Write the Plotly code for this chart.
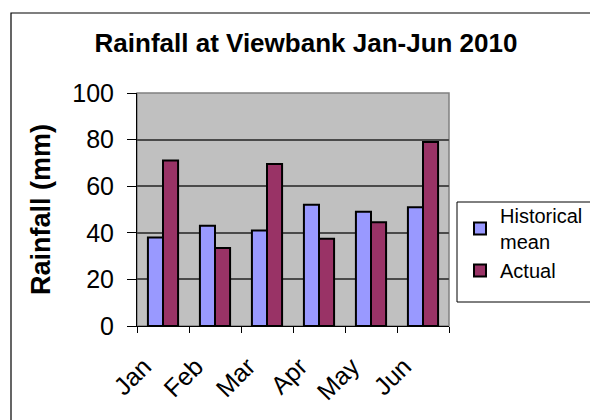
import plotly.graph_objects as go

months = ["Jan", "Feb", "Mar", "Apr", "May", "Jun"]
historical_mean = [38, 43, 41, 52, 49, 51]
actual = [71, 33.5, 69.5, 37.5, 44.5, 79]
y_ticks = [0, 20, 40, 60, 80, 100]

W, H = 598, 420
OFF = 8  # default page body margin: screen = figure + 8


def s(v):
    return v - OFF


L, R, T, B = s(137), s(449), s(93), s(326)  # plot area in figure pixels


def px(x):
    return (s(x) - L) / (R - L)


def py(y):
    return (B - s(y)) / (B - T)


FONT = "Liberation Sans, Arial, sans-serif"

fig = go.Figure()
fig.add_trace(go.Bar(x=months, y=historical_mean, name="Historical<br>mean",
                     marker=dict(color="#9999FF", line=dict(color="black", width=2))))
fig.add_trace(go.Bar(x=months, y=actual, name="Actual",
                     marker=dict(color="#993366", line=dict(color="black", width=2))))

fig.update_layout(
    width=W, height=H,
    margin=dict(l=L, r=W - R, t=T, b=H - B),
    paper_bgcolor="white",
    plot_bgcolor="#C0C0C0",
    barmode="group",
    bargap=0.42,
    bargroupgap=0,
    font=dict(family=FONT, color="black"),
    title=dict(text="<b>Rainfall at Viewbank Jan-Jun 2010</b>",
               x=s(306) / W, xanchor="center", y=1 - s(43) / H, yanchor="middle",
               font=dict(size=26, family=FONT, color="black")),
    legend=dict(x=px(460), y=py(196), xanchor="left", yanchor="top",
                font=dict(size=20, family=FONT), bgcolor="rgba(0,0,0,0)",
                borderwidth=0, tracegroupgap=0),
    showlegend=True,
)

fig.update_yaxes(range=[0, 100], tickvals=y_ticks, ticks="outside", ticklen=9,
                 tickcolor="black", showline=True, linecolor="black", linewidth=1,
                 showgrid=True, gridcolor="#4a4a4a", gridwidth=1.5,
                 tickfont=dict(size=25, family=FONT), zeroline=False,
                 ticklabelstandoff=8,
                 title=dict(text="<b>Rainfall (mm)</b>", font=dict(size=27, family=FONT),
                            standoff=13))
fig.update_xaxes(tickson="boundaries", ticks="outside", ticklen=6, tickcolor="black",
                 showline=True, linecolor="black", linewidth=1,
                 tickangle=-45, tickfont=dict(size=25, family=FONT),
                 ticklabelstandoff=15, ticklabelshift=-19)

# plot area border (top/right gray)
fig.add_shape(type="rect", xref="paper", yref="paper", x0=0, x1=1, y0=0, y1=1,
              line=dict(color="#808080", width=1.5), layer="below")
# legend box
fig.add_shape(type="rect", xref="paper", yref="paper", x0=px(457), x1=px(610),
              y0=py(302), y1=py(202), line=dict(color="black", width=1))
# outer chart border
fig.add_shape(type="rect", xref="paper", yref="paper", x0=px(11), x1=px(620),
              y0=py(440), y1=py(13), line=dict(color="black", width=1.2))

fig.write_html("out.html")
